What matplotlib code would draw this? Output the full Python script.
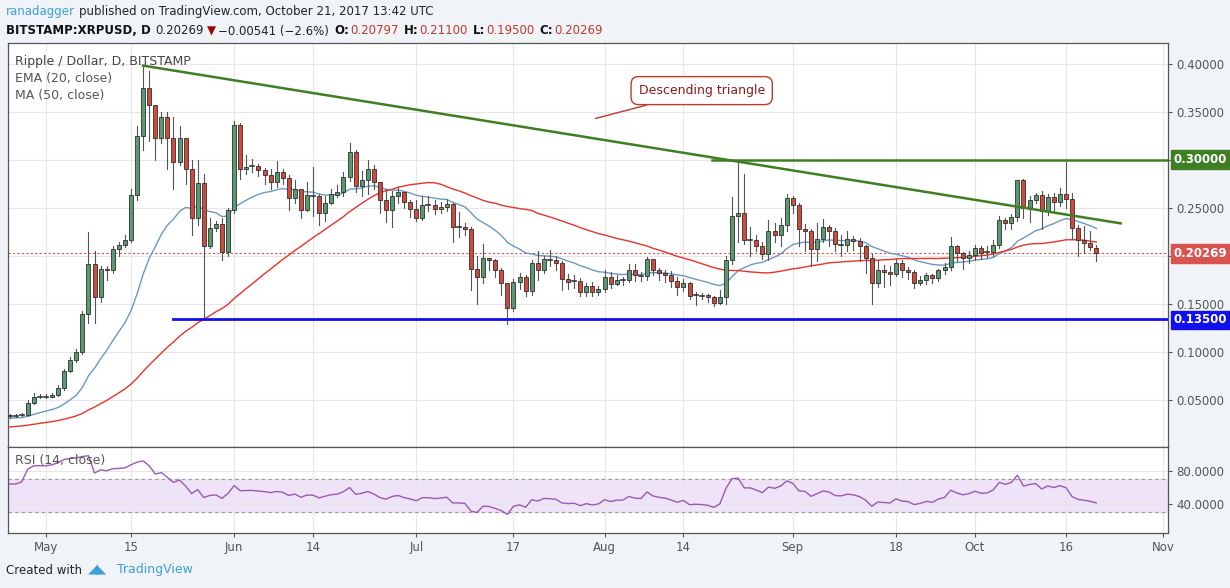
import numpy as np
import pandas as pd
import matplotlib
matplotlib.use("Agg")
import matplotlib.pyplot as plt
from matplotlib.patches import Rectangle

# ---------------- data ----------------
prior_closes = [0.0068,0.0069,0.0070,0.0071,0.0072,0.0075,0.0078,0.0082,0.0090,0.0100,
0.0105,0.0110,0.0115,0.0110,0.0105,0.0110,0.0120,0.0130,0.0135,0.0140,
0.0150,0.0160,0.0200,0.0220,0.0230,0.0240,0.0230,0.0250,0.0280,0.0310,
0.0350,0.0370,0.0330,0.0320,0.0340,0.0330,0.0320,0.0310,0.0330,0.0340,
0.0320,0.0330,0.0340,0.0330,0.0320,0.0330,0.0340,0.0335,0.0330,0.0335]

closes = [0.034,0.034,0.035,0.047,0.054,0.054,0.054,0.056,0.063,0.081,
0.092,0.100,0.140,0.192,0.157,0.187,0.185,0.207,0.211,0.217,
0.263,0.325,0.375,0.357,0.323,0.345,0.323,0.298,0.323,0.290,
0.240,0.276,0.210,0.229,0.233,0.204,0.248,0.336,0.290,0.293,
0.294,0.289,0.284,0.277,0.287,0.281,0.260,0.270,0.248,0.263,
0.262,0.245,0.255,0.264,0.267,0.282,0.308,0.273,0.279,0.290,
0.277,0.258,0.248,0.262,0.267,0.256,0.249,0.240,0.253,0.253,
0.249,0.251,0.254,0.230,0.230,0.228,0.187,0.178,0.198,0.196,
0.185,0.172,0.146,0.173,0.178,0.164,0.193,0.186,0.197,0.196,
0.193,0.176,0.173,0.174,0.163,0.169,0.163,0.166,0.178,0.171,
0.175,0.175,0.185,0.180,0.179,0.197,0.186,0.182,0.180,0.174,
0.168,0.172,0.159,0.160,0.159,0.157,0.151,0.157,0.196,0.242,
0.245,0.217,0.217,0.210,0.202,0.226,0.222,0.232,0.260,0.253,
0.228,0.226,0.207,0.218,0.230,0.226,0.213,0.212,0.218,0.216,
0.210,0.198,0.172,0.185,0.183,0.181,0.193,0.185,0.183,0.172,
0.175,0.180,0.177,0.185,0.189,0.210,0.203,0.198,0.201,0.208,
0.203,0.204,0.212,0.238,0.234,0.241,0.279,0.250,0.258,0.263,
0.247,0.261,0.256,0.265,0.259,0.229,0.217,0.214,0.209,0.20269]

highs = [0.036,0.036,0.037,0.050,0.058,0.057,0.057,0.058,0.066,0.083,
0.095,0.103,0.143,0.225,0.205,0.190,0.190,0.210,0.215,0.222,
0.270,0.335,0.398,0.392,0.350,0.350,0.350,0.345,0.335,0.322,
0.300,0.300,0.285,0.240,0.236,0.240,0.250,0.340,0.338,0.305,
0.301,0.296,0.292,0.290,0.299,0.290,0.284,0.279,0.270,0.277,
0.293,0.265,0.262,0.270,0.274,0.287,0.318,0.310,0.288,0.300,
0.295,0.274,0.270,0.268,0.272,0.262,0.258,0.258,0.262,0.262,
0.258,0.256,0.259,0.255,0.246,0.234,0.230,0.200,0.213,0.198,
0.197,0.188,0.172,0.176,0.182,0.180,0.196,0.205,0.200,0.206,
0.200,0.195,0.181,0.180,0.177,0.172,0.173,0.169,0.185,0.183,
0.180,0.178,0.192,0.192,0.183,0.199,0.196,0.188,0.185,0.184,
0.178,0.176,0.173,0.163,0.162,0.161,0.159,0.165,0.200,0.261,
0.298,0.285,0.230,0.222,0.215,0.237,0.234,0.240,0.265,0.262,
0.255,0.233,0.228,0.234,0.239,0.232,0.229,0.222,0.226,0.221,
0.219,0.211,0.202,0.196,0.191,0.190,0.197,0.196,0.189,0.186,
0.179,0.182,0.181,0.187,0.193,0.220,0.212,0.204,0.205,0.212,
0.210,0.210,0.217,0.242,0.240,0.244,0.279,0.280,0.262,0.266,
0.268,0.265,0.266,0.271,0.298,0.266,0.232,0.231,0.226,0.211]

lows = [0.032,0.033,0.034,0.034,0.046,0.052,0.052,0.053,0.055,0.061,
0.079,0.090,0.098,0.130,0.130,0.152,0.175,0.182,0.200,0.209,
0.215,0.258,0.310,0.320,0.300,0.318,0.290,0.270,0.295,0.275,
0.222,0.232,0.136,0.208,0.226,0.196,0.200,0.245,0.280,0.285,
0.287,0.283,0.275,0.270,0.272,0.275,0.248,0.255,0.240,0.247,
0.242,0.232,0.236,0.254,0.261,0.262,0.278,0.267,0.262,0.265,
0.270,0.245,0.235,0.230,0.255,0.250,0.241,0.236,0.238,0.247,
0.244,0.245,0.247,0.215,0.220,0.222,0.165,0.150,0.172,0.185,
0.178,0.160,0.129,0.143,0.166,0.158,0.160,0.175,0.182,0.190,
0.186,0.165,0.166,0.167,0.158,0.159,0.158,0.160,0.163,0.167,
0.170,0.170,0.173,0.174,0.174,0.175,0.180,0.175,0.173,0.168,
0.160,0.164,0.155,0.149,0.155,0.152,0.148,0.150,0.150,0.192,
0.215,0.213,0.200,0.205,0.197,0.196,0.215,0.210,0.226,0.245,
0.210,0.205,0.190,0.195,0.215,0.210,0.205,0.200,0.205,0.206,
0.195,0.182,0.150,0.168,0.168,0.170,0.179,0.178,0.176,0.167,
0.170,0.171,0.172,0.174,0.181,0.186,0.195,0.187,0.193,0.196,
0.197,0.199,0.200,0.208,0.228,0.228,0.236,0.240,0.235,0.255,
0.228,0.243,0.245,0.252,0.250,0.218,0.200,0.203,0.206,0.195]

first_open = 0.033
last_open = 0.20797
tick_days = [6, 20, 37, 50, 67, 83, 98, 111, 129, 146, 159, 174, 190]
tick_labels = ["May", "15", "Jun", "14", "Jul", "17", "Aug", "14", "Sep", "18", "Oct", "16", "Nov"]
price_ticks = [0.05, 0.10, 0.15, 0.20, 0.25, 0.30, 0.35, 0.40]
support = 0.135
resistance = 0.30
last_price = 0.20269
trend_start = (22, 0.398)
trend_end = (183, 0.234)

# ---------------- computations ----------------
n = len(closes)
opens = [first_open] + closes[:-1]
opens[-1] = last_open
allc = pd.Series(prior_closes + closes)
ema20 = allc.ewm(span=20, adjust=False).mean().values[-n:]
ma50 = allc.rolling(50, min_periods=1).mean().values[-n:]
d = allc.diff()
up = d.clip(lower=0).ewm(alpha=1/14, adjust=False).mean()
dn = (-d.clip(upper=0)).ewm(alpha=1/14, adjust=False).mean()
rsi = (100 - 100 / (1 + up / dn)).values[-n:]

W, H = 1230, 588
fig = plt.figure(figsize=(W/100, H/100), dpi=100, facecolor="#f0f3f7")
def ax_rect(l, t, r, b):
    return [l/W, 1-b/H, (r-l)/W, (b-t)/H]

ax = fig.add_axes(ax_rect(8, 43, 1168, 447))
axr = fig.add_axes(ax_rect(8, 447, 1168, 533), sharex=ax)
for a in (ax, axr):
    a.set_facecolor("white")
    for s in a.spines.values():
        s.set_color("#555555"); s.set_linewidth(0.9)
    a.yaxis.tick_right()
    a.tick_params(axis="y", colors="#555555", labelsize=8.5, length=3, pad=3)
    a.grid(True, color="#e6e6e6", lw=0.8)
    a.set_axisbelow(True)

xs = np.arange(n)
green, red = "#5a9a71", "#d04a3b"
for i in xs:
    o, c = opens[i], closes[i]
    hi = max(highs[i], o, c); lo = min(lows[i], o, c)
    col = green if c >= o else red
    ax.plot([i, i], [lo, hi], color="#555555", lw=0.8, zorder=3)
    bh = abs(c - o)
    if bh < 0.0012:
        ax.plot([i-0.33, i+0.33], [c, c], color="#333333", lw=1.2, zorder=4)
    else:
        ax.add_patch(Rectangle((i-0.33, min(o, c)), 0.66, bh, facecolor=col,
                               edgecolor="#2f2f2f", lw=0.6, zorder=4))

ax.plot(xs, ema20, color="#6a98c4", lw=1.0, zorder=2)
ax.plot(xs, ma50, color="#e8322a", lw=1.0, zorder=2)

xmax = 190.8
ax.plot([trend_start[0], trend_end[0]], [trend_start[1], trend_end[1]], color="#3f7f23", lw=1.8, zorder=5)
ax.plot([115.7, xmax], [resistance, resistance], color="#3f7f23", lw=1.8, zorder=5)
ax.plot([27, xmax], [support, support], color="#1010ee", lw=2.0, zorder=5)
ax.axhline(last_price, color="#d9534f", lw=0.8, ls=(0, (2, 2)), zorder=1)

ax.set_xlim(-0.25, xmax)
ax.set_ylim(0.0015, 0.4215)
ax.set_yticks(price_ticks)
# 0.20 and 0.30 labels are covered by the price boxes in the reference
ax.set_yticklabels(["" if v in (0.20, 0.30) else f"{v:.5f}" for v in price_ticks])
plt.setp(ax.get_xticklabels(), visible=False)
ax.tick_params(axis="x", length=0)

def price_box(y, txt, bg, dy=0):
    ax.annotate(txt, xy=(1.0, y), xycoords=("axes fraction", "data"), xytext=(4, dy),
                textcoords="offset points", va="center", ha="left", fontsize=8.5,
                color="white", fontweight="bold",
                bbox=dict(boxstyle="square,pad=0.25", fc=bg, ec=bg), annotation_clip=False)
price_box(resistance, "0.30000", "#3f7f23")
price_box(last_price, "0.20269", "#d9534f")
price_box(support, "0.13500", "#1010ee", dy=-1)

ax.text(0.006, 0.955, "Ripple / Dollar, D, BITSTAMP", transform=ax.transAxes, fontsize=9, color="#444444", va="center")
ax.text(0.006, 0.912, "EMA (20, close)", transform=ax.transAxes, fontsize=9, color="#555555", va="center")
ax.text(0.006, 0.870, "MA (50, close)", transform=ax.transAxes, fontsize=9, color="#555555", va="center")

ax.annotate("Descending triangle", xy=(96.5, 0.343), xytext=(114, 0.372), fontsize=9, color="#8b1a1a",
            ha="center", va="center",
            bbox=dict(boxstyle="round,pad=0.6", fc="white", ec="#c0392b", lw=1),
            arrowprops=dict(arrowstyle="-", color="#c0392b", lw=1, shrinkA=0, shrinkB=0), zorder=6)

# RSI
axr.axhspan(30, 70, color="#e8d8f5", alpha=0.7, zorder=0)
axr.axhline(70, color="#999999", lw=0.8, ls=(0, (3, 3)))
axr.axhline(30, color="#999999", lw=0.8, ls=(0, (3, 3)))
axr.plot(xs, rsi, color="#9b59b6", lw=1.0)
axr.set_ylim(5, 109)
axr.set_yticks([40, 80])
axr.set_yticklabels(["40.0000", "80.0000"])
axr.set_xticks(tick_days)
axr.set_xticklabels(tick_labels)
axr.tick_params(axis="x", colors="#555555", labelsize=8.5, length=3, pad=3)
axr.text(0.006, 0.84, "RSI (14, close)", transform=axr.transAxes, fontsize=9, color="#555555", va="center")

# header & footer: pieces laid out one after another
fig.canvas.draw()
renderer = fig.canvas.get_renderer()
def chain(x, y, parts, fs=8.5):
    for s, c, b, gap in parts:
        t = fig.text(x/W, 1-y/H, s, va="center", ha="left", fontsize=fs, color=c,
                     fontweight="bold" if b else "normal")
        bb = t.get_window_extent(renderer)
        x += bb.width + gap

chain(6, 12, [("ranadagger", "#3ba0d8", False, 4),
              ("published on TradingView.com, October 21, 2017 13:42 UTC", "#222222", False, 0)])
chain(6, 31, [("BITSTAMP:XRPUSD, D", "#111111", True, 5), ("0.20269", "#222222", False, 3),
              ("▼", "#a00000", False, 2), ("−0.00541 (−2.6%)", "#222222", False, 5),
              ("O:", "#111111", True, 1), ("0.20797", "#c0392b", False, 5),
              ("H:", "#111111", True, 1), ("0.21100", "#c0392b", False, 5),
              ("L:", "#111111", True, 1), ("0.19500", "#c0392b", False, 5),
              ("C:", "#111111", True, 1), ("0.20269", "#c0392b", False, 0)])
chain(6, 570, [("Created with", "#222222", False, 0)])
fig.text(88/W, 1-569/H, "◢◣", va="center", ha="left", fontsize=9, color="#3ba0d8")
fig.text(117/W, 1-570/H, "TradingView", va="center", ha="left", fontsize=9, color="#3ba0d8")

fig.savefig("out.png", dpi=100, facecolor=fig.get_facecolor())
